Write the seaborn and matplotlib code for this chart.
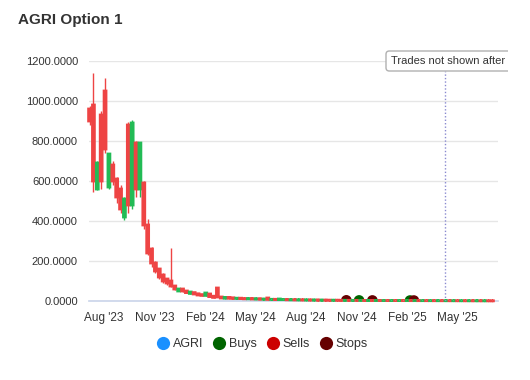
import pandas as pd
import numpy as np
import matplotlib
matplotlib.use("Agg")
import matplotlib.pyplot as plt
import matplotlib.dates as mdates
from matplotlib.lines import Line2D
from matplotlib.transforms import Bbox, TransformedBbox
import seaborn as sns

# weekly candles
start_date = "2023-07-07"
opens = [960, 980, 560, 930, 1050, 570, 680, 610, 560, 420,
         880, 480, 790, 560, 590, 380, 260, 190, 160, 130,
         110, 100, 75, 50, 60, 50, 38, 42, 36, 32,
         28, 35, 24, 65, 20, 14, 18,
         16, 13, 14, 12, 11, 12, 10, 11, 9, 15,
         8, 8.5, 7, 7, 7.5, 6, 6.5, 5.5, 6, 5,
         5.5, 4.5, 5, 4, 4.5, 4, 3.5, 4, 3.5, 3,
         3.5, 3, 3.2, 2.8, 3, 2.5, 2.8, 2.4, 2.6, 2.2,
         2.4, 2, 2.3, 2, 2.2, 1.9, 2.1, 1.8, 2, 1.7,
         1.9, 1.6, 1.8, 1.5, 1.7, 1.5, 1.6, 1.4, 1.5, 1.3,
         1.4, 1.2, 1.3, 1.1, 1.2, 1.0, 1.1, 0.9]
closes = [900, 600, 690, 600, 760, 735, 600, 520, 460, 510,
          480, 890, 560, 790, 380, 240, 190, 150, 120, 100,
          90, 75, 60, 60, 50, 42, 45, 35, 30, 28,
          40, 22, 18, 20, 15, 18, 14,
          13, 14, 12, 11, 12, 10, 11, 9, 9.5, 8,
          8.5, 7, 10, 7.5, 6, 6.5, 5.5, 6, 5, 5.5,
          4.5, 5, 4, 4.5, 4, 3.5, 4, 3.5, 3, 3.5,
          3, 3.2, 2.8, 3, 2.5, 2.8, 2.4, 2.6, 2.2, 2.4,
          2, 2.3, 2, 2.2, 1.9, 2.1, 1.8, 2, 1.7, 1.9,
          1.6, 1.8, 1.5, 1.7, 1.5, 1.6, 1.4, 1.5, 1.3, 1.4,
          1.2, 1.3, 1.1, 1.2, 1.0, 1.1, 0.9, 0.8]
highs = [975, 1140, 700, 950, 1115, 740, 700, 620, 580, 520,
         895, 905, 800, 795, 600, 410, 270, 200, 165, 140,
         115, 265, 80, 65, 62, 55, 47, 44, 38, 34,
         45, 36, 26, 66, 21, 19, 19,
         17, 15, 15, 13, 13, 13, 12, 12, 10, 16,
         9, 9, 11, 8, 8, 7, 7, 6.5, 6.5, 6,
         6, 5.5, 5.5, 5, 5, 4.5, 4.5, 4.5, 4, 4,
         4, 3.5, 3.5, 3.2, 3.2, 3, 3, 2.8, 2.8, 2.6,
         2.6, 2.4, 2.4, 2.3, 2.3, 2.2, 2.2, 2.1, 2.1, 2,
         2, 1.9, 1.9, 1.8, 1.8, 1.7, 1.7, 1.6, 1.6, 1.5,
         1.5, 1.4, 1.4, 1.3, 1.3, 1.2, 1.2, 1.0]
lows = [880, 545, 555, 560, 740, 560, 580, 490, 440, 405,
        440, 460, 520, 520, 360, 230, 170, 140, 110, 90,
        80, 70, 55, 48, 45, 40, 36, 33, 28, 26,
        25, 20, 16, 18, 13, 12, 12,
        12, 12, 11, 10, 10, 9, 9, 8, 8, 7,
        7, 6.5, 6.5, 6.5, 5.5, 5.5, 5, 5, 4.5, 4.5,
        4, 4, 3.5, 3.5, 3.5, 3, 3, 3, 2.5, 2.5,
        2.5, 2.5, 2.5, 2.5, 2.2, 2.2, 2.2, 2, 2, 2,
        1.8, 1.8, 1.8, 1.7, 1.7, 1.6, 1.6, 1.5, 1.5, 1.5,
        1.4, 1.4, 1.3, 1.3, 1.3, 1.2, 1.2, 1.1, 1.1, 1.1,
        1.0, 1.0, 0.9, 0.9, 0.8, 0.8, 0.7, 0.6]

# trade markers
trade_dates = ["2024-10-13", "2024-11-05", "2024-11-29", "2025-02-05", "2025-02-12"]
trade_prices = [3.0, 2.6, 2.4, 2.0, 2.0]
trade_types = ["Stops", "Buys", "Stops", "Buys", "Stops"]
cutoff_date = "2025-04-10"

legend_names = ["AGRI", "Buys", "Sells", "Stops"]
legend_colors = ["#1a90ff", "#006400", "#cc0000", "#660000"]

up_color = "#22bb55"
down_color = "#ee4444"

sns.set_theme(style="white")
plt.rcParams["font.family"] = ["Liberation Sans", "DejaVu Sans"]

df = pd.DataFrame({"open": opens, "close": closes, "high": highs, "low": lows})
df["date"] = pd.date_range(start_date, periods=len(df), freq="7D")
df["color"] = np.where(df["close"] >= df["open"], up_color, down_color)

trades = pd.DataFrame({"date": pd.to_datetime(trade_dates), "price": trade_prices,
                       "type": trade_types})

fig = plt.figure(figsize=(5.3, 3.8), dpi=100)
ax = fig.add_axes([89 / 530, 1 - 301 / 380, 409 / 530, 240 / 380])

# trades behind the candles
sns.scatterplot(data=trades, x="date", y="price", hue="type",
                palette={"Buys": "#006400", "Sells": "#cc0000", "Stops": "#660000"},
                s=60, edgecolor="none", legend=False, ax=ax, zorder=1)

# wicks and bodies
ax.vlines(df["date"], df["low"], df["high"], colors=df["color"], lw=1, zorder=3,
          clip_on=False)
bars = ax.bar(df["date"], df["close"] - df["open"], bottom=df["open"], width=3.5,
              color=df["color"], edgecolor=df["color"], linewidth=2.0, zorder=3,
              clip_on=False)
for b in bars:
    b.set_snap(False)
    b.set_joinstyle("miter")

ax.axvline(pd.Timestamp(cutoff_date), ymax=0.96, color="#8a8ad0", lw=1,
           linestyle=(0, (1, 1.5)), zorder=4)

ax.set_xlim(pd.Timestamp("2023-07-06"), pd.Timestamp("2025-07-14"))
ax.set_ylim(0, 1200)
ax.set_yticks(range(0, 1201, 200))
ax.yaxis.set_major_formatter(matplotlib.ticker.FormatStrFormatter("%.4f"))
ax.xaxis.set_major_locator(mdates.MonthLocator(bymonth=[2, 5, 8, 11]))
ax.xaxis.set_major_formatter(mdates.DateFormatter("%b '%y"))
ax.grid(axis="y", color="#e6e6e6", lw=1)
ax.set_axisbelow(True)
for s in ["top", "right", "left"]:
    ax.spines[s].set_visible(False)
ax.spines["bottom"].set_color("#ccd6eb")
ax.spines["bottom"].set_zorder(0.6)
ax.tick_params(axis="x", colors="#ccd6eb", length=5, width=1, labelcolor="#333333",
               labelsize=8.5, pad=3)
ax.tick_params(axis="y", length=0, labelcolor="#333333", labelsize=8, pad=8)
ax.set_xlabel("")
ax.set_ylabel("")

fig.text(18 / 530, 1 - 20 / 380, "AGRI Option 1", fontsize=11, fontweight="bold",
         color="#333333", va="center", ha="left")

# annotation box, right side cut off like in the source chart
note = fig.text(391 / 530, 1 - 61 / 380, "Trades not shown after     ",
                fontsize=8, color="#333333", va="center", ha="left",
                bbox=dict(boxstyle="round,pad=0.45,rounding_size=0.3", fc="white",
                          ec="#b0b0b0", lw=1))
note.set_clip_box(TransformedBbox(Bbox.from_extents(0, 0, 508 / 530, 1), fig.transFigure))
note.set_clip_on(True)

handles = [Line2D([], [], marker="o", linestyle="none", markersize=9.5,
                  markerfacecolor=c, markeredgecolor="none") for c in legend_colors]
fig.legend(handles, legend_names, loc="center", bbox_to_anchor=(0.495, 1 - 344 / 380),
           ncol=4, frameon=False, fontsize=9, handletextpad=0.25, handlelength=1.0,
           columnspacing=0.8, labelcolor="#333333")

fig.savefig("out.png", dpi=100)
